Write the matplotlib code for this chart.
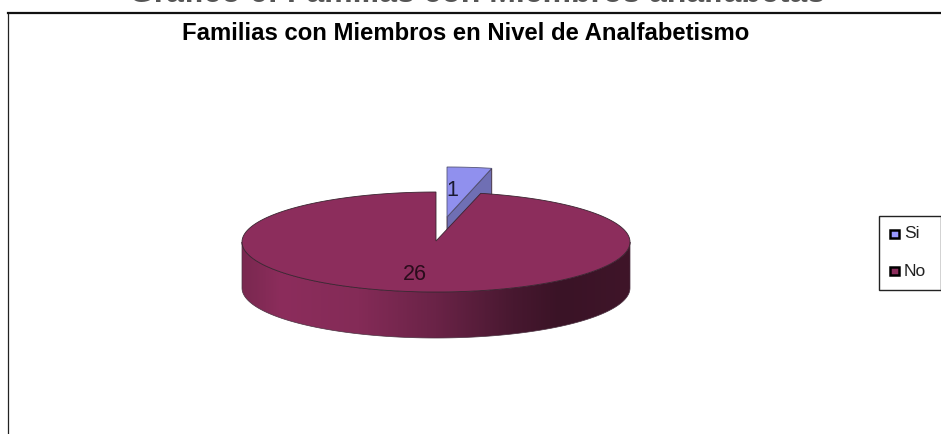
import numpy as np
import matplotlib
matplotlib.use("Agg")
import matplotlib.pyplot as plt
from matplotlib.patches import Polygon, Rectangle
from matplotlib.colors import LinearSegmentedColormap

categories = ["Si", "No"]
values = [1, 26]
title = "Familias con Miembros en Nivel de Analfabetismo"
cut_title = "Gráfico 6: Familias con Miembros analfabetas"

W, H = 941, 434
plt.rcParams['font.family'] = ['Liberation Sans', 'DejaVu Sans']
fig = plt.figure(figsize=(W/100, H/100), dpi=100)
ax = fig.add_axes([0, 0, 1, 1])
ax.set_xlim(0, W); ax.set_ylim(H, 0); ax.axis('off')

CX, CY, RX, RY, DEPTH = 436, 242, 194, 50, 46
OFF = (11, -25)
EDGE = '#3a2430'

def arc(a0, a1, cx=CX, cy=CY, n=200):
    t = np.radians(np.linspace(a0, a1, n))  # clockwise from 12 o'clock
    return np.column_stack([cx + RX*np.sin(t), cy - RY*np.cos(t)])

sweep = 360 * values[0] / sum(values)

# outer frame
ax.plot([8, 8], [H, 13], color='#222222', lw=0.9, clip_on=False)
ax.plot([8, W], [13, 13], color='#111111', lw=1.6, clip_on=False)

# clipped heading along the top edge
ax.text(477, 1.5, cut_title, ha='center', va='baseline', fontsize=23, weight='bold', color='#555555')

# exploded small slice: cut face, then top
cx2, cy2 = CX + OFF[0], CY + OFF[1]
e = arc(0, sweep, cx2, cy2)[-1]
face = [(cx2, cy2), tuple(e), (e[0], e[1]+DEPTH), (cx2, cy2+DEPTH)]
ax.add_patch(Polygon(face, fc='#6f6fb4', ec=EDGE, lw=0.6, zorder=2))
pts = np.vstack([[cx2, cy2], arc(0, sweep, cx2, cy2)])
ax.add_patch(Polygon(pts, fc='#9090ee', ec='#555577', lw=0.6, zorder=3))

# main slice: gradient wall
lower = arc(90, 270)
wall = np.vstack([lower, (lower + [0, DEPTH])[::-1]])
wall_patch = Polygon(wall, fc='none', ec='none', zorder=4)
ax.add_patch(wall_patch)
cmap = LinearSegmentedColormap.from_list('w', [
    (0.00, '#7a2850'), (0.10, '#8c2d5c'), (0.30, '#842b57'),
    (0.50, '#6a2347'), (0.70, '#481830'), (0.82, '#3a1326'), (1.00, '#3f1529')])
im = ax.imshow(np.linspace(0, 1, 400)[None, :], cmap=cmap, aspect='auto',
               extent=[CX-RX, CX+RX, CY+RY+DEPTH+2, CY-2], zorder=4)
im.set_clip_path(wall_patch)
ax.set_xlim(0, W); ax.set_ylim(H, 0)
ax.add_patch(Polygon(wall, fc='none', ec='#4a3040', lw=0.5, zorder=5))

# main slice: top
top = np.vstack([[CX, CY-1], arc(sweep, 360)])
ax.add_patch(Polygon(top, fc='#8c2d5c', ec=EDGE, lw=0.6, zorder=6))

# value labels
ax.text(452, 190, str(values[0]), ha='center', va='center', fontsize=15.5, color='#1a1a30', zorder=7)
ax.text(415, 274, str(values[1]), ha='center', va='center', fontsize=15.5, color='#2a0c1c', zorder=7)

# title
ax.text(465.5, 34, title, ha='center', va='center', fontsize=17.2, weight='bold', color='black', zorder=7)

# legend
ax.add_patch(Rectangle((879.5, 216), 62, 74, fc='white', ec='#222222', lw=1.0, zorder=7))
for name, col, y in zip(categories, ['#9999ff', '#8c2d5c'], [234, 271]):
    ax.add_patch(Rectangle((890.5, y-4), 9, 8, fc=col, ec='black', lw=1.8, zorder=8))
    ax.text(904, y, name, ha='left', va='center', fontsize=12.5, color='#222222', zorder=8)

fig.savefig('out.png', dpi=100)
